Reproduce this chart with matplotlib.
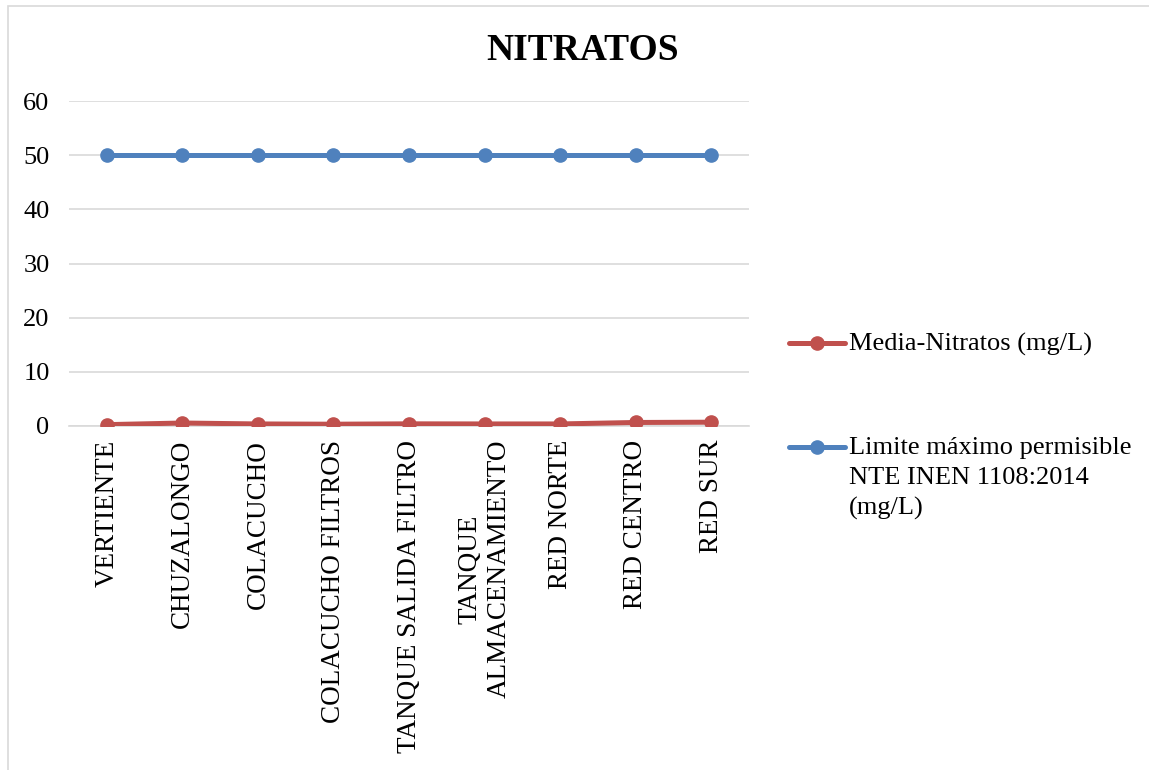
import matplotlib
matplotlib.use("Agg")
import matplotlib.pyplot as plt
from matplotlib.lines import Line2D
from matplotlib.patches import Rectangle

plt.rcParams['font.family'] = ['Liberation Serif', 'DejaVu Serif']

categories = ["VERTIENTE", "CHUZALONGO", "COLACUCHO", "COLACUCHO FILTROS",
              "TANQUE SALIDA FILTRO", "TANQUE\nALMACENAMIENTO", "RED NORTE",
              "RED CENTRO", "RED SUR"]
media_nitratos = [0.25, 0.55, 0.38, 0.33, 0.40, 0.38, 0.38, 0.65, 0.70]
limite_maximo = [50, 50, 50, 50, 50, 50, 50, 50, 50]
y_ticks = [0, 10, 20, 30, 40, 50, 60]

label_media = "Media-Nitratos (mg/L)"
label_limite = "Limite máximo permisible\nNTE INEN 1108:2014\n(mg/L)"

red = "#C0504D"
blue = "#4F81BD"
grid_color = "#D9D9D9"

W, H = 1149, 770
fig = plt.figure(figsize=(W / 100, H / 100), dpi=100)

# chart frame
fig.add_artist(Rectangle((8 / W, -0.1), 1.2, 1 - 6 / H + 0.1, transform=fig.transFigure,
                         fill=False, edgecolor=grid_color, linewidth=1.2))

ax = fig.add_axes([69 / W, 1 - 426 / H, (749 - 69) / W, (426 - 101) / H])
x = list(range(len(categories)))

ax.plot(x, media_nitratos, color=red, linewidth=3.6, marker='o', markersize=9.5,
        solid_capstyle='round', zorder=3)
ax.plot(x, limite_maximo, color=blue, linewidth=3.6, marker='o', markersize=9.5,
        solid_capstyle='round', zorder=3)

ax.set_xlim(-0.5, len(categories) - 0.5)
ax.set_ylim(0, 60)
ax.set_yticks(y_ticks)
ax.set_yticklabels([str(v) for v in y_ticks], fontsize=19)
ax.set_xticks(x)
ax.set_xticklabels(categories, rotation=90, fontsize=19.5, va='top', ha='center',
                   multialignment='center')
ax.tick_params(axis='both', length=0)
ax.tick_params(axis='y', pad=14)
ax.tick_params(axis='x', pad=10)
ax.yaxis.grid(True, color=grid_color, linewidth=1.2, zorder=0)
ax.set_axisbelow(True)
for side in ('left', 'right', 'top'):
    ax.spines[side].set_visible(False)
ax.spines['bottom'].set_color(grid_color)
ax.spines['bottom'].set_linewidth(1.2)

fig.text(583 / W, 1 - 51 / H, "NITRATOS", fontsize=27, fontweight='bold',
         ha='center', va='center')

# legend entries
for yc, col, lab in ((343, red, label_media), (447, blue, label_limite)):
    fig.add_artist(Line2D([789 / W, 845 / W], [1 - yc / H, 1 - yc / H],
                          transform=fig.transFigure, color=col, linewidth=3.6,
                          solid_capstyle='round'))
    fig.add_artist(Line2D([817 / W], [1 - yc / H], transform=fig.transFigure,
                          color=col, marker='o', markersize=9.5))
    fig.text(849 / W, 1 - (yc - 10) / H, lab, fontsize=19, ha='left', va='top',
             linespacing=1.46)

fig.savefig("out.png", dpi=100)
